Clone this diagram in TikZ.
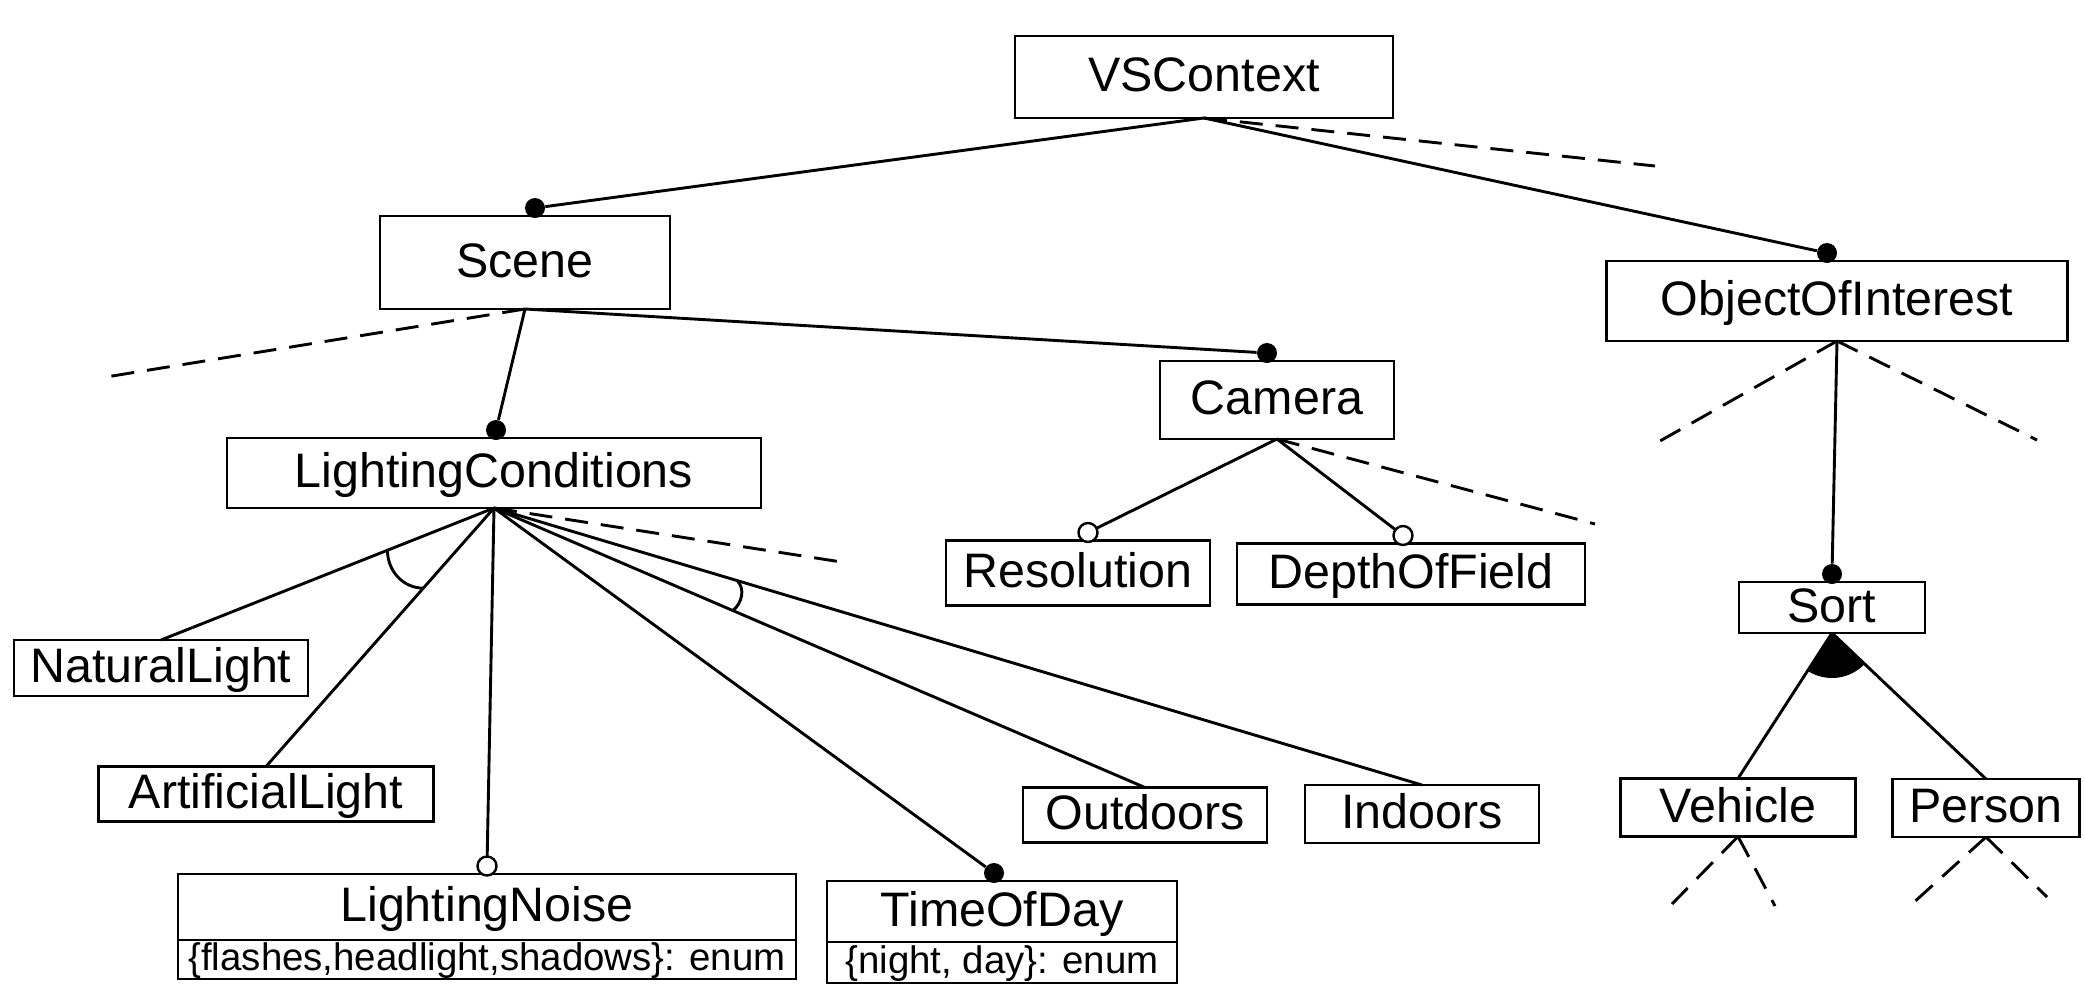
\documentclass[tikz,border=0pt]{standalone}
\usepackage{fontspec}
\setmainfont{Liberation Sans}
\usetikzlibrary{calc}
\begin{document}
\begin{tikzpicture}[x=0.5pt,y=-0.5pt,
  fbox/.style={draw, line width=1.45pt, inner sep=0pt, outer sep=0pt, text height=19pt, text depth=4.5pt, font=\fontsize{24.2}{28}\selectfont},
  attr/.style={draw, line width=1.45pt, inner sep=0pt, outer sep=0pt, text height=14.5pt, text depth=3.5pt, font=\fontsize{19.2}{22}\selectfont},
  conn/.style={line width=1.45pt},
  dashconn/.style={line width=1.45pt, dash pattern=on 11.5pt off 6.5pt},
  mand/.style={fill=black, circle, inner sep=0pt, minimum size=10pt},
  optc/.style={fill=white, draw=black, line width=1.2pt, circle, inner sep=0pt, minimum size=9.5pt}]
\useasboundingbox (0,0) rectangle (2084,987);
% features
\node[fbox, minimum width=189pt, minimum height=41pt] (vs) at (1204,77) {VSContext};
\node[fbox, minimum width=145pt, minimum height=46.5pt] (scene) at (525,262.5) {Scene};
\node[fbox, minimum width=230.5pt, minimum height=40pt] (ooi) at (1837,301) {ObjectOfInterest};
\node[fbox, minimum width=117pt, minimum height=39pt] (cam) at (1277,400) {Camera};
\node[fbox, minimum width=267pt, minimum height=35pt] (lc) at (494,473) {LightingConditions};
\node[fbox, minimum width=132pt, minimum height=32.5pt] (res) at (1078,573) {Resolution};
\node[fbox, minimum width=174pt, minimum height=30.5pt] (dof) at (1411,574) {DepthOfField};
\node[fbox, minimum width=93pt, minimum height=25.5pt] (sort) at (1832,607.5) {Sort};
\node[fbox, minimum width=147pt, minimum height=28pt] (nl) at (161,668) {NaturalLight};
\node[fbox, minimum width=167.5pt, minimum height=27.5pt] (al) at (266,794) {ArtificialLight};
\node[fbox, minimum width=122pt, minimum height=27.5pt] (out) at (1145,815) {Outdoors};
\node[fbox, minimum width=117pt, minimum height=29pt] (ind) at (1422,814) {Indoors};
\node[fbox, minimum width=117.5pt, minimum height=29pt] (veh) at (1738,807.5) {Vehicle};
\node[fbox, minimum width=93.5pt, minimum height=29pt] (per) at (1986,808) {Person};
\node[fbox, minimum width=309pt, minimum height=33pt] (ln) at (487,907) {LightingNoise};
\node[attr, minimum width=309pt, minimum height=19.5pt, anchor=north] (lnattr) at (ln.south) {\{flashes,headlight,shadows\}: enum};
\node[fbox, minimum width=175pt, minimum height=30.5pt] (tod) at (1002,911.5) {TimeOfDay};
\node[attr, minimum width=175pt, minimum height=20.5pt, anchor=north] (todattr) at (tod.south) {\{night, day\}: enum};
% free ends of dashed lines
\coordinate (e1) at (1655,166);
\coordinate (e2) at (106,377);
\coordinate (e3) at (848,563);
\coordinate (e4) at (1595,524);
\coordinate (e5) at (1660,441);
\coordinate (e6) at (2037,440);
\coordinate (e7) at (1672,904);
\coordinate (e8) at (1775,906);
\coordinate (e9) at (1912,904);
\coordinate (e10) at (2047,897);
% dashed
\draw[dashconn] (vs.south) -- (e1);
\draw[dashconn] (scene.south) -- (e2);
\draw[dashconn] (lc.south) -- (e3);
\draw[dashconn] (cam.south) -- (e4);
\draw[dashconn] (ooi.south) -- (e5);
\draw[dashconn] (ooi.south) -- (e6);
\draw[dashconn] (veh.south) -- (e7);
\draw[dashconn] (veh.south) -- (e8);
\draw[dashconn] (per.south) -- (e9);
\draw[dashconn] (per.south) -- (e10);
% plain connectors
\draw[conn] (lc.south) -- (nl.north);
\draw[conn] (lc.south) -- (al.north);
\draw[conn] (lc.south) -- (out.north);
\draw[conn] (lc.south) -- (ind.north);
\draw[conn] (sort.south) -- (veh.north);
\draw[conn] (sort.south) -- (per.north);
% mandatory / optional markers
\node[mand] (dscene) at ([xshift=5pt,yshift=4pt]scene.north) {};
\node[mand] (dooi) at ([xshift=-5pt,yshift=4pt]ooi.north) {};
\node[mand] (dcam) at ([xshift=-5pt,yshift=4pt]cam.north) {};
\node[mand] (dlc) at ([xshift=1pt,yshift=4pt]lc.north) {};
\node[mand] (dtod) at ([xshift=-4pt,yshift=4pt]tod.north) {};
\node[mand] (dsort) at ([yshift=4pt]sort.north) {};
\draw[conn] (vs.south) -- (dscene);
\draw[conn] (vs.south) -- (dooi);
\draw[conn] (scene.south) -- (dcam);
\draw[conn] (scene.south) -- (dlc);
\draw[conn] (lc.south) -- (dtod);
\draw[conn] (ooi.south) -- (dsort);
\draw[conn] (lc.south) -- ([yshift=4pt]ln.north);
\draw[conn] (cam.south) -- ([xshift=5pt,yshift=4pt]res.north);
\draw[conn] (cam.south) -- ([xshift=-4pt,yshift=4pt]dof.north);
\node[optc] (cln) at ([yshift=4pt]ln.north) {};
\node[optc] (cres) at ([xshift=5pt,yshift=4pt]res.north) {};
\node[optc] (cdof) at ([xshift=-4pt,yshift=4pt]dof.north) {};
% group arcs
\draw[conn] ($(lc.south)!0.32!(nl.north)$) to[out=-90, in=180] ($(lc.south)!0.31!(al.north)$);
\draw[conn] ($(lc.south)!0.262!(ind.north)$) to[out=-45, in=40] ($(lc.south)!0.367!(out.north)$);
\fill let \p1=($(veh.north)-(sort.south)$), \p2=($(per.north)-(sort.south)$),
  \n1={atan2(\y1,\x1)}, \n2={atan2(\y2,\x2)} in
  (sort.south) -- ($(sort.south)+(\n1:22.5pt)$) arc[start angle=\n1, end angle=\n2, radius=22.5pt] -- cycle;
\end{tikzpicture}
\end{document}
